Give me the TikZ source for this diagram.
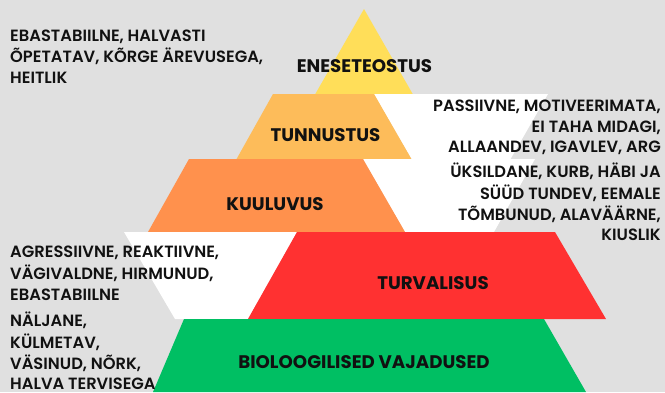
\documentclass[tikz,border=0pt]{standalone}
\usepackage{fontspec}
\setmainfont{Poppins}
\newfontfamily\sidefont{Poppins SemiBold}
\definecolor{bgc}{HTML}{E0E0E0}
\definecolor{cyel}{HTML}{FFDE59}
\definecolor{clor}{HTML}{FDBC5A}
\definecolor{cor}{HTML}{FF914D}
\definecolor{cred}{HTML}{FF3131}
\definecolor{cgrn}{HTML}{00BF63}
\definecolor{ctxt}{HTML}{111111}
\begin{document}
\begin{tikzpicture}[x=1pt,y=-1pt,
  lab/.style={font=\bfseries\fontsize{18.2}{21}\selectfont, inner sep=0pt, text=ctxt},
  side/.style={font=\sidefont\fontsize{16.3}{20.4}\selectfont, inner sep=0pt, text=ctxt},
  sidel/.style={side, anchor=north west, align=left},
  sider/.style={side, anchor=north east, align=right}]
\useasboundingbox (0,0) rectangle (665,392);
\fill[bgc] (0,0) rectangle (665,392);
% top triangle
\fill[cyel] (364,9) -- (419,105) -- (309,105) -- cycle;
% level 2
\fill[white] (374,94) -- (548,94) -- (510,160) -- (412,160) -- cycle;
\fill[clor] (273,94) -- (374,94) -- (412,160) -- (236,160) -- cycle;
% level 3
\fill[white] (363,159) -- (535,159) -- (494,232) -- (405,232) -- cycle;
\fill[cor] (189,159) -- (363,159) -- (405,232) -- (148,232) -- cycle;
% level 4
\fill[white] (124,232) -- (297,232) -- (248,319) -- (175,319) -- cycle;
\fill[cred] (297,232) -- (555,232) -- (606,319) -- (248,319) -- cycle;
% level 5
\fill[cgrn] (184,319) -- (544,319) -- (586,392) -- (153,392) -- cycle;
% labels
\node[lab] (l1) at (364.5,66.3) {ENESETEOSTUS};
\node[lab] (l2) at (325.5,135.2) {TUNNUSTUS};
\node[lab] (l3) at (275,204.5) {KUULUVUS};
\node[lab] (l4) at (433,283.3) {TURVALISUS};
\node[lab] (l5) at (364,362.3) {BIOLOOGILISED VAJADUSED};
% side texts
\node[sidel] (t1) at (10,26.7) {\strut EBASTABIILNE, HALVASTI\\ÕPETATAV, KÕRGE ÄREVUSEGA,\\HEITLIK};
\node[sider] (t2) at (661,97.4) {\strut PASSIIVNE, MOTIVEERIMATA,\\EI TAHA MIDAGI,\\ALLAANDEV, IGAVLEV, ARG};
\node[sider] (t3) at (661,163.0) {\strut ÜKSILDANE, KURB, HÄBI JA\\SÜÜD TUNDEV, EEMALE\\TÕMBUNUD, ALAVÄÄRNE,\\KIUSLIK};
\node[sidel] (t4) at (10,243.4) {\strut AGRESSIIVNE, REAKTIIVNE,\\VÄGIVALDNE, HIRMUNUD,\\EBASTABIILNE};
\node[sidel] (t5) at (10,312.0) {\strut NÄLJANE,\\KÜLMETAV,\\VÄSINUD, NÕRK,\\HALVA TERVISEGA};
\end{tikzpicture}
\end{document}
